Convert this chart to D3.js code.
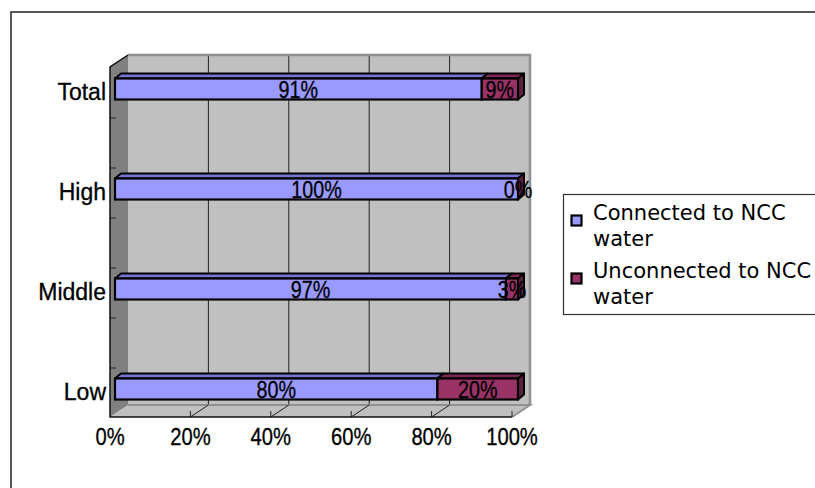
<!DOCTYPE html>
<html>
<head>
<meta charset="utf-8">
<script src="https://cdn.jsdelivr.net/npm/d3@7"></script>
<style>
  body { margin: 0; background: #fff; }
  svg { display: block; }
</style>
</head>
<body>
<div id="chart"></div>
<script>
// chart values
var categories = ["Total", "High", "Middle", "Low"];
var connected = [91, 100, 97, 80];
var unconnected = [9, 0, 3, 20];
var seriesNames = ["Connected to NCC\nwater", "Unconnected to NCC\nwater"];
var xTicks = [0, 20, 40, 60, 80, 100];

var width = 815, height = 488;
var colors = [
  {front: "#9999ff", top: "#7474d0", side: "#6666cc"},
  {front: "#993366", top: "#7a2952", side: "#5e1f40"}
];

var svg = d3.select("#chart").append("svg")
  .attr("width", width)
  .attr("height", height);

// outer chart frame
svg.append("rect")
  .attr("x", 11).attr("y", 12)
  .attr("width", 830).attr("height", 500)
  .attr("fill", "none").attr("stroke", "#222").attr("stroke-width", 1.5);

// the 3d box: front plane, back wall, bar plane
var xFront = d3.scaleLinear().domain([0, 100]).range([110, 512]);
var xBack = d3.scaleLinear().domain([0, 100]).range([128, 530]);
var xBar = d3.scaleLinear().domain([0, 100]).range([115, 518]);
var y = d3.scalePoint().domain(categories).range([89, 389]);
var wallTop = 55, wallBottom = 405, frontTop = 67, frontBottom = 417;
var barH = 21, dx = 6, dy = 5;

// back wall
svg.append("rect")
  .attr("x", xBack(0)).attr("y", wallTop)
  .attr("width", xBack(100) - xBack(0)).attr("height", wallBottom - wallTop)
  .attr("fill", "#c0c0c0");

// gridlines
svg.selectAll(".grid")
  .data(xTicks.slice(1, -1))
  .enter().append("line")
    .attr("x1", function(d) { return xBack(d); })
    .attr("x2", function(d) { return xBack(d); })
    .attr("y1", wallTop).attr("y2", wallBottom)
    .attr("stroke", "#222").attr("stroke-width", 1);

// back wall border
svg.append("path")
  .attr("d", "M" + xBack(0) + "," + wallTop + "H" + xBack(100) + "V" + wallBottom)
  .attr("fill", "none").attr("stroke", "#909090").attr("stroke-width", 2.5);

// floor
svg.append("path")
  .attr("d", "M" + xFront(0) + "," + frontBottom + "L" + xBack(0) + "," + wallBottom +
    "L" + xBack(100) + "," + wallBottom + "L" + xFront(100) + "," + frontBottom + "Z")
  .attr("fill", "#c0c0c0");
svg.append("path")
  .attr("d", "M" + xBack(0) + "," + wallBottom + "H" + xBack(100) +
    "L" + xFront(100) + "," + frontBottom)
  .attr("fill", "none").attr("stroke", "#909090").attr("stroke-width", 2);

// floor diagonals + front ticks
svg.selectAll(".fl")
  .data(xTicks.slice(1, -1))
  .enter().append("line")
    .attr("x1", function(d) { return xFront(d); })
    .attr("y1", frontBottom)
    .attr("x2", function(d) { return xBack(d); })
    .attr("y2", wallBottom)
    .attr("stroke", "#222").attr("stroke-width", 1);
svg.selectAll(".ft")
  .data(xTicks.slice(1))
  .enter().append("line")
    .attr("x1", function(d) { return xFront(d); })
    .attr("x2", function(d) { return xFront(d); })
    .attr("y1", frontBottom - 6).attr("y2", frontBottom)
    .attr("stroke", "#222").attr("stroke-width", 1);

// side wall
svg.append("path")
  .attr("d", "M" + xFront(0) + "," + frontTop + "L" + xBack(0) + "," + wallTop +
    "L" + xBack(0) + "," + wallBottom + "L" + xFront(0) + "," + frontBottom + "Z")
  .attr("fill", "#808080");

// side wall ticks
var yWall = d3.scaleLinear().domain([0, 7]).range([frontTop + 1, frontBottom + 1]);
svg.selectAll(".wt")
  .data(d3.range(1, 7))
  .enter().append("line")
    .attr("x1", xFront(0)).attr("x2", xFront(0) + 6)
    .attr("y1", function(d) { return yWall(d); })
    .attr("y2", function(d) { return yWall(d); })
    .attr("stroke", "#222").attr("stroke-width", 1);

// front edges
svg.append("path")
  .attr("d", "M" + xBack(0) + "," + wallTop + "L" + xFront(0) + "," + frontTop +
    "V" + frontBottom + "H" + xFront(100))
  .attr("fill", "none").attr("stroke", "#111").attr("stroke-width", 1.5);

// stacked bars
var table = categories.map(function(c, i) {
  return {cat: c, connected: connected[i], unconnected: unconnected[i]};
});
var stack = d3.stack().keys(["connected", "unconnected"])(table);

stack.forEach(function(layer, si) {
  var col = colors[si];
  var g = svg.append("g");
  layer.forEach(function(d) {
    var x0 = xBar(d[0]), x1 = xBar(d[1]);
    var yt = y(d.data.cat) - barH / 2, yb = yt + barH;
    // top face
    g.append("path")
      .attr("d", "M" + x0 + "," + yt + "L" + (x0 + dx) + "," + (yt - dy) +
        "L" + (x1 + dx) + "," + (yt - dy) + "L" + x1 + "," + yt + "Z")
      .attr("fill", col.top).attr("stroke", "#000").attr("stroke-width", 2)
      .attr("stroke-linejoin", "round");
    // side face on the right end
    if (si === stack.length - 1) {
      g.append("path")
        .attr("d", "M" + x1 + "," + yt + "L" + (x1 + dx) + "," + (yt - dy) +
          "L" + (x1 + dx) + "," + (yb - dy) + "L" + x1 + "," + yb + "Z")
        .attr("fill", col.side).attr("stroke", "#000").attr("stroke-width", 2)
        .attr("stroke-linejoin", "round");
    }
    // front face
    g.append("rect")
      .attr("x", x0).attr("y", yt)
      .attr("width", x1 - x0).attr("height", barH)
      .attr("fill", col.front).attr("stroke", "#000").attr("stroke-width", 2.2);
  });
});

// value labels
stack.forEach(function(layer) {
  layer.forEach(function(d) {
    var cx = (xBar(d[0]) + xBar(d[1])) / 2;
    var cy = y(d.data.cat) + 8.5;
    svg.append("text")
      .attr("transform", "translate(" + cx + "," + cy + ") scale(0.84,1)")
      .attr("text-anchor", "middle")
      .attr("font-family", "Liberation Sans, Arial, sans-serif")
      .attr("font-size", 23.5)
      .attr("fill", "#000")
      .attr("stroke", "#000").attr("stroke-width", 0.3)
      .text((d[1] - d[0]) + "%");
  });
});

// category labels
svg.selectAll(".cat")
  .data(categories)
  .enter().append("text")
    .attr("x", 106)
    .attr("y", function(d) { return y(d) + 11; })
    .attr("text-anchor", "end")
    .attr("font-family", "Liberation Sans, Arial, sans-serif")
    .attr("font-size", 23)
    .attr("fill", "#000")
    .attr("stroke", "#000").attr("stroke-width", 0.3)
    .text(function(d) { return d; });

// x tick labels
svg.selectAll(".xt")
  .data(xTicks)
  .enter().append("text")
    .attr("transform", function(d) { return "translate(" + xFront(d) + ",445) scale(0.86,1)"; })
    .attr("text-anchor", "middle")
    .attr("font-family", "Liberation Sans, Arial, sans-serif")
    .attr("font-size", 23.5)
    .attr("fill", "#000")
    .attr("stroke", "#000").attr("stroke-width", 0.3)
    .text(function(d) { return d + "%"; });

// legend
var legend = svg.append("g");
legend.append("rect")
  .attr("x", 563.5).attr("y", 194.5)
  .attr("width", 270).attr("height", 120)
  .attr("fill", "#fff").attr("stroke", "#333").attr("stroke-width", 1.2);

seriesNames.forEach(function(name, i) {
  var base = 220 + i * 58;
  legend.append("rect")
    .attr("x", 571.5).attr("y", base - 4.5)
    .attr("width", 10).attr("height", 10)
    .attr("fill", colors[i].front)
    .attr("stroke", "#000").attr("stroke-width", 2.2);
  var t = legend.append("text")
    .attr("font-family", "DejaVu Sans, Verdana, sans-serif")
    .attr("font-size", 21)
    .attr("fill", "#000");
  name.split("\n").forEach(function(line, j) {
    t.append("tspan")
      .attr("x", 593)
      .attr("y", base + j * 25.5)
      .text(line);
  });
});
</script>
</body>
</html>
